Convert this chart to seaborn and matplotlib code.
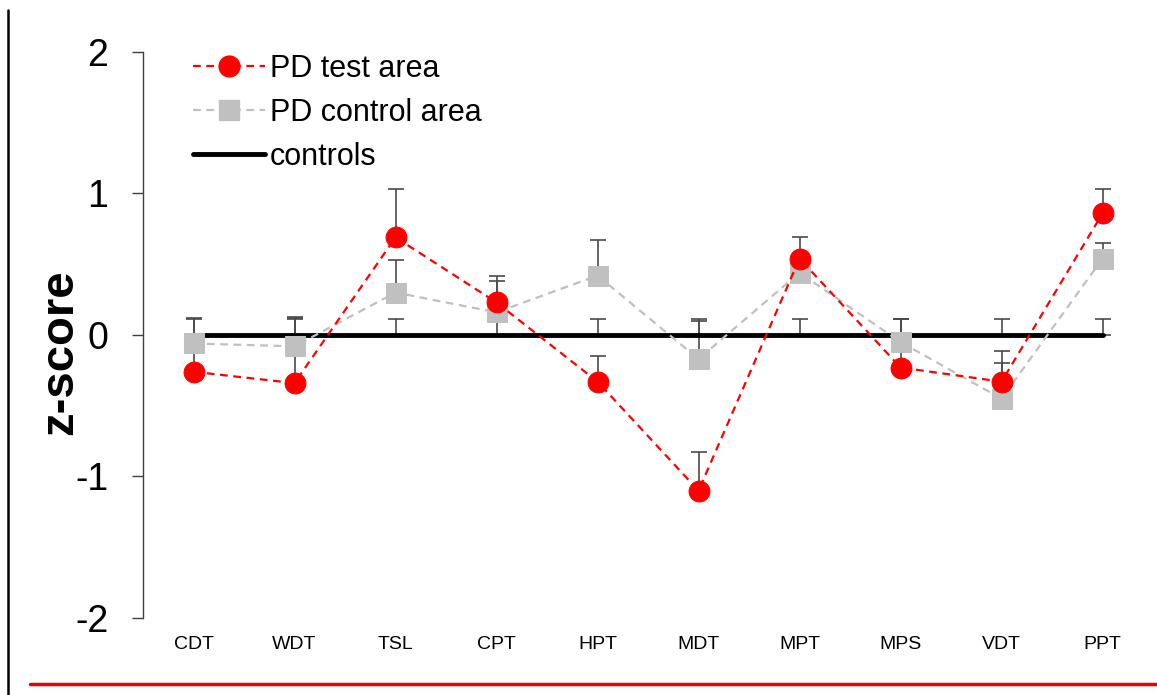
import matplotlib
matplotlib.use("Agg")
import matplotlib.pyplot as plt
import matplotlib.lines as mlines
import seaborn as sns
import numpy as np
import pandas as pd

categories = ["CDT", "WDT", "TSL", "CPT", "HPT", "MDT", "MPT", "MPS", "VDT", "PPT"]
test_vals = [-0.26, -0.34, 0.69, 0.23, -0.33, -1.10, 0.54, -0.23, -0.33, 0.86]
test_err = [0.20, 0.46, 0.34, 0.19, 0.18, 0.27, 0.15, 0.34, 0.22, 0.17]
ctrl_area_vals = [-0.06, -0.08, 0.30, 0.16, 0.42, -0.17, 0.44, -0.05, -0.45, 0.54]
ctrl_area_err = [0.18, 0.21, 0.23, 0.22, 0.25, 0.27, 0.10, 0.16, 0.25, 0.11]
controls_vals = [0.0] * 10
controls_err = [0.11] * 10
yticks = [-2, -1, 0, 1, 2]

sns.set_theme(style="white")
plt.rcParams["font.family"] = ["Liberation Sans", "DejaVu Sans"]
plt.rcParams["text.color"] = "black"
plt.rcParams["axes.labelcolor"] = "black"

fig = plt.figure(figsize=(11.57, 6.95), dpi=100)
ax = fig.add_axes([0.1236, 0.1108, 0.873, 0.8144])

x = np.arange(len(categories))
df = pd.DataFrame({"x": x, "test": test_vals, "ctrl": ctrl_area_vals, "controls": controls_vals})

errc = "#4a4a4a"
for vals, errs in [(controls_vals, controls_err), (ctrl_area_vals, ctrl_area_err), (test_vals, test_err)]:
    ax.errorbar(x, vals, yerr=[np.zeros(10), errs], fmt="none",
                ecolor=errc, elinewidth=1.2, capsize=5.5, capthick=1.2, zorder=1)

sns.lineplot(data=df, x="x", y="controls", ax=ax, color="black", linewidth=3.5,
             solid_capstyle="round", zorder=2)
sns.lineplot(data=df, x="x", y="ctrl", ax=ax, color="#c0c0c0", linewidth=1.6,
             linestyle=(0, (3.5, 2.5)), marker="s", markersize=14,
             markeredgecolor="#c0c0c0", markerfacecolor="#c0c0c0", zorder=3)
sns.lineplot(data=df, x="x", y="test", ax=ax, color="#ff0000", linewidth=1.6,
             linestyle=(0, (3.5, 2.5)), marker="o", markersize=15,
             markeredgecolor="#ff0000", markerfacecolor="#ff0000", zorder=4)

ax.set_xlim(-0.5, 9.5)
ax.set_ylim(-2, 2)
ax.set_yticks(yticks)
ax.set_yticklabels([str(v) for v in yticks], fontsize=27)
ax.set_xticks(x)
ax.set_xticklabels(categories, fontsize=14)
ax.tick_params(axis="x", length=0, pad=13, labelcolor="black")
ax.tick_params(axis="y", left=True, direction="out", length=8, width=1, color="#404040",
               pad=17, labelcolor="black")
for s in ["top", "right", "bottom"]:
    ax.spines[s].set_visible(False)
ax.spines["left"].set_color("#404040")
ax.spines["left"].set_linewidth(1)
ax.set_xlabel("")
ax.set_ylabel("")
ax.grid(False)

fig.text(60 / 1157, 1 - 352 / 695, "z-score", rotation=90, ha="center", va="center",
         fontsize=34, fontweight="bold", color="black")

handles = [
    mlines.Line2D([], [], color="#ff0000", linewidth=1.6, linestyle=(0, (3.5, 2.5)),
                  marker="o", markersize=15),
    mlines.Line2D([], [], color="#c0c0c0", linewidth=1.6, linestyle=(0, (3.5, 2.5)),
                  marker="s", markersize=14),
    mlines.Line2D([], [], color="black", linewidth=3.5),
]
ax.legend(handles, ["PD test area", "PD control area", "controls"], loc="upper left",
          bbox_to_anchor=(0.0376, 1.0186), frameon=False, fontsize=22, handlelength=2.36,
          handletextpad=0.16, labelspacing=0.46, borderaxespad=0)

# decorative frame lines
fig.add_artist(mlines.Line2D([8 / 1157, 8 / 1157], [0, 1 - 10 / 695], color="black",
                             linewidth=1.8, transform=fig.transFigure))
fig.add_artist(mlines.Line2D([30 / 1157, 1], [1 - 684 / 695, 1 - 684 / 695], color="#ee0000",
                             linewidth=2.5, transform=fig.transFigure))

fig.savefig("out.png", dpi=100)
